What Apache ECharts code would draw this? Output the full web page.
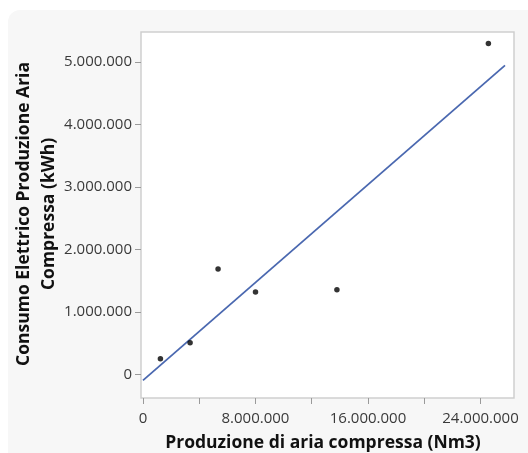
<!DOCTYPE html>
<html>
<head>
<meta charset="utf-8">
<script src="https://cdn.jsdelivr.net/npm/echarts@6/dist/echarts.min.js"></script>
<style>
  html, body { margin: 0; padding: 0; background: #ffffff; }
  #chart { width: 528px; height: 453px; }
</style>
</head>
<body>
<div id="chart"></div>
<script>
// Compressed air production (Nm3) vs electrical consumption (kWh)
const productionNm3 = [1240000, 3350000, 5340000, 8000000, 13790000, 24560000];
const consumptionKWh = [256000, 512000, 1690000, 1323000, 1360000, 5300000];

// Least-squares fit line, endpoints
const fitX = [0, 25740000];
const fitY = [-90000, 4950000];

const xTicks = [0, 4000000, 8000000, 12000000, 16000000, 20000000, 24000000];
const xLabels = [0, 8000000, 16000000, 24000000];
const yTicks = [0, 1000000, 2000000, 3000000, 4000000, 5000000];

const xTitle = 'Produzione di aria compressa (Nm3)';
const yTitle = 'Consumo Elettrico Produzione Aria\nCompressa (kWh)';

function fmt(v) {
  return String(Math.round(v)).replace(/\B(?=(\d{3})+(?!\d))/g, '.');
}

const FONT = '"Open Sans", "Noto Sans", sans-serif';

const chart = echarts.init(document.getElementById('chart'), null, { renderer: 'canvas' });
chart.setOption({
  animation: false,
  backgroundColor: '#ffffff',
  graphic: [
    {
      type: 'rect', z: -10, silent: true,
      shape: { x: 8, y: 10, width: 540, height: 460, r: 12 },
      style: { fill: '#f7f7f7' }
    },
    {
      type: 'text', z: 10,
      x: 37, y: 214, rotation: Math.PI / 2,
      style: {
        text: yTitle, align: 'center', verticalAlign: 'middle',
        font: 'bold 17.5px ' + FONT, lineHeight: 25, fill: '#111111'
      }
    },
    {
      type: 'text', z: 10,
      x: 323, y: 443,
      style: {
        text: xTitle, align: 'center', verticalAlign: 'middle',
        font: 'bold 17.5px ' + FONT, fill: '#111111'
      }
    }
  ],
  grid: {
    left: 141, top: 32, right: 14, bottom: 55,
    show: true, backgroundColor: '#ffffff', borderColor: '#cfcfcf', borderWidth: 1.5
  },
  xAxis: {
    type: 'value', min: -140000, max: 26380000,
    axisLine: { show: false, onZero: false },
    splitLine: { show: false },
    axisTick: { show: true, length: 6, lineStyle: { color: '#9a9a9a' }, customValues: xTicks },
    axisLabel: {
      customValues: xLabels, formatter: fmt, margin: 13,
      color: '#3a3a3a', fontSize: 15, fontFamily: FONT
    }
  },
  yAxis: {
    type: 'value', min: -373000, max: 5483000,
    axisLine: { show: false, onZero: false },
    splitLine: { show: false },
    axisTick: { show: true, length: 6, lineStyle: { color: '#9a9a9a' }, customValues: yTicks },
    axisLabel: {
      customValues: yTicks, formatter: fmt, margin: 9,
      color: '#3a3a3a', fontSize: 15, fontFamily: FONT
    }
  },
  series: [
    {
      type: 'line',
      data: fitX.map((x, i) => [x, fitY[i]]),
      symbol: 'none',
      lineStyle: { color: '#4a68b0', width: 1.8 },
      z: 2
    },
    {
      type: 'scatter',
      data: productionNm3.map((x, i) => [x, consumptionKWh[i]]),
      symbolSize: 5.5,
      itemStyle: { color: '#000000' },
      z: 3
    }
  ]
});
</script>
</body>
</html>
